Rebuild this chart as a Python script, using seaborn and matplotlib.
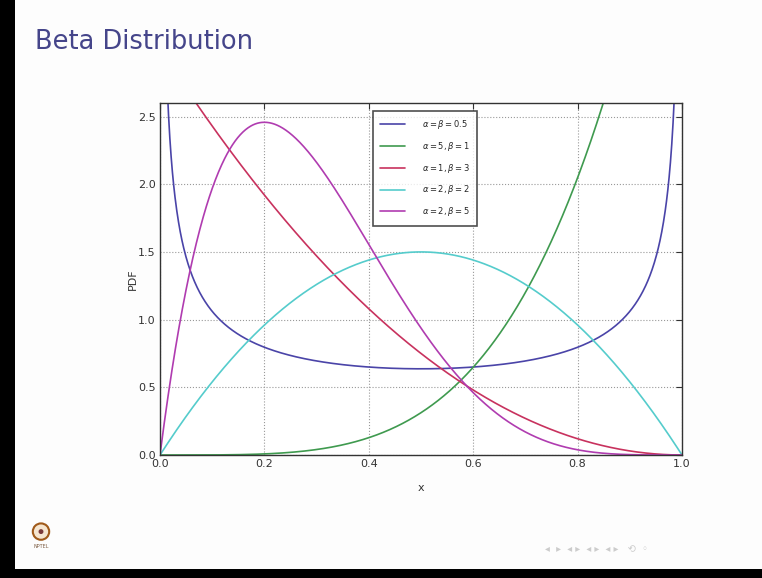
import math
import numpy as np
import pandas as pd
import seaborn as sns
import matplotlib
matplotlib.use("Agg")
import matplotlib.pyplot as plt
from matplotlib.patches import Rectangle, Circle

# Shape parameters of each Beta curve
alphas = [0.5, 5, 1, 2, 2]
betas = [0.5, 1, 3, 2, 5]
labels = [r"$\alpha=\beta=0.5$", r"$\alpha=5,\beta=1$", r"$\alpha=1,\beta=3$",
          r"$\alpha=2,\beta=2$", r"$\alpha=2,\beta=5$"]
colors = ["#4a44a8", "#3f9a4f", "#c8325e", "#55cccc", "#b03cb0"]

xticks = [0.0, 0.2, 0.4, 0.6, 0.8, 1.0]
yticks = [0.0, 0.5, 1.0, 1.5, 2.0, 2.5]

x = np.linspace(0.0005, 0.9995, 1200)


def beta_pdf(xv, a, b):
    c = math.gamma(a + b) / (math.gamma(a) * math.gamma(b))
    return c * xv ** (a - 1) * (1 - xv) ** (b - 1)


frames = []
for a, b, lab in zip(alphas, betas, labels):
    frames.append(pd.DataFrame({"x": x, "PDF": beta_pdf(x, a, b), "curve": lab}))
df = pd.concat(frames, ignore_index=True)

sns.set_theme(style="white")
plt.rcParams["font.family"] = ["DejaVu Sans"]

W, H = 762, 578
fig = plt.figure(figsize=(W / 100, H / 100), dpi=100)
fig.patch.set_facecolor("#fdfdfd")

# slide frame edges
fig.patches.append(Rectangle((0, 0), 15 / W, 1, transform=fig.transFigure,
                             facecolor="black", edgecolor="none", zorder=0))
fig.patches.append(Rectangle((0, 0), 1, 9 / H, transform=fig.transFigure,
                             facecolor="black", edgecolor="none", zorder=0))

fig.text(35 / W, 1 - 42 / H, "Beta Distribution", fontsize=18.5, color="#45458a",
         ha="left", va="center")

ax = fig.add_axes([160 / W, 1 - 455 / H, (682 - 160) / W, (455 - 103) / H])
ax.set_facecolor("white")
sns.lineplot(data=df, x="x", y="PDF", hue="curve", palette=colors, ax=ax,
             linewidth=1.2, sort=False, estimator=None)

ax.set_xlim(0, 1)
ax.set_ylim(0, 2.6)
ax.set_xticks(xticks)
ax.set_yticks(yticks)
ax.set_xticklabels([f"{v:.1f}" for v in xticks])
ax.set_yticklabels([f"{v:.1f}" for v in yticks])
ax.tick_params(direction="in", top=True, right=True, length=4, width=0.8,
               labelsize=8, colors="#333333", pad=3)
ax.grid(True, linestyle=":", color="#999999", linewidth=0.8)
for s in ax.spines.values():
    s.set_visible(True)
    s.set_color("#333333")
    s.set_linewidth(1.0)
ax.set_xlabel("x", fontsize=8, color="#333333", labelpad=10)
ax.set_ylabel("PDF", fontsize=8, color="#333333", labelpad=0)

leg = ax.legend(loc="upper center", bbox_to_anchor=(0.508, 0.99), fontsize=6,
                frameon=True, fancybox=False, handlelength=3.0,
                borderpad=0.9, labelspacing=1.05, handletextpad=2.0)
leg.get_frame().set_edgecolor("#222222")
leg.get_frame().set_linewidth(1.2)
for line in leg.get_lines():
    line.set_linewidth(1.2)

# institute emblem
emb = fig.add_axes([26 / W, 1 - 550 / H, 30 / W, 30 / H])
emb.set_xlim(-1, 1)
emb.set_ylim(-1.2, 1)
emb.set_aspect("equal")
emb.axis("off")
emb.add_patch(Circle((0, 0.15), 0.6, facecolor="#f6e6d0", edgecolor="#a05a1a", linewidth=1.5))
emb.add_patch(Circle((0, 0.15), 0.18, facecolor="#7a3a3a", edgecolor="none"))
emb.text(0, -0.95, "NPTEL", fontsize=3.5, ha="center", va="center", color="#7a5a40")

# navigation symbols
fig.text(545 / W, 1 - 549 / H, "◂  ▸  ◂ ▸  ◂ ▸  ◂ ▸   ⟲  ◦", fontsize=7, color="#cccccc",
         ha="left", va="center")

fig.savefig("out.png", dpi=100, facecolor=fig.get_facecolor())
